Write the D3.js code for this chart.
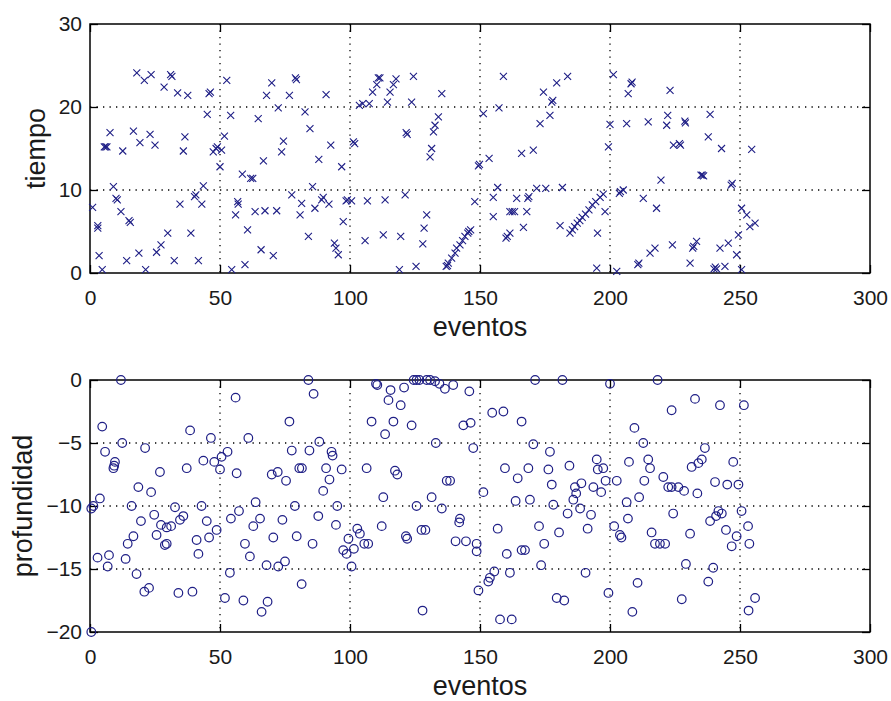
<!DOCTYPE html>
<html>
<head>
<meta charset="utf-8">
<script src="https://cdnjs.cloudflare.com/ajax/libs/d3/7.8.5/d3.min.js"></script>
<style>
body { margin: 0; background: #fff; }
text { font-family: "Liberation Sans", Arial, sans-serif; fill: #1a1a1a; }
</style>
</head>
<body>
<div id="visualization"></div>
<script>
// tick values
var xTicks = [0, 50, 100, 150, 200, 250, 300];
var tiempoTicks = [0, 10, 20, 30];
var profTicks = [-20, -15, -10, -5, 0];

// [evento, tiempo]
var tiempo = [
  [1,7.9],[3,5.7],[3,5.4],[3.5,2.1],[4.7,0.4],[5.5,15.2],[6,15.2],[6.5,15.2],[7.7,16.9],[9,10.4],
  [10,9],[10.5,8.8],[11.9,7.4],[12.6,14.7],[14.1,1.5],[15,6.3],[15.5,6.1],[16.7,17.1],[18,24.1],[18.8,2.4],
  [19.2,15.7],[20.9,23.2],[21.4,0.4],[23.1,16.7],[23.5,23.9],[25,15.4],[25.6,2.5],[27.3,3.4],[28.5,22.4],[29.9,4.8],
  [31,23.9],[31.5,23.7],[32.4,1.5],[33.7,21.7],[34.6,8.3],[35.9,14.7],[36.5,16.4],[37.6,21.4],[38.8,4.8],[40.2,9.2],
  [40.7,9.4],[41.7,1.5],[43,8.3],[43.6,10.5],[45.1,19.1],[45.8,21.6],[46.3,21.8],[47.4,14.6],[48.5,15],[49,15.2],
  [50,12.8],[50.6,14.8],[51.7,16.5],[52.6,23.2],[54.1,19],[54.5,0.4],[56,7],[56.8,8.6],[57,8.3],[58.6,11.9],
  [59.6,1],[60.6,5.2],[61.8,11.4],[62.6,11.4],[63.5,7.4],[64.7,18.6],[65.8,2.8],[66.7,13.5],[67.3,7.5],[67.9,21.4],
  [69.9,22.9],[70.5,2.1],[71.8,7.5],[72.4,19.9],[73.7,14.6],[74.4,15.9],
  [76.7,21.4],[77.6,9.4],[79,23.5],[79.4,23.3],[80.8,7],[81.4,8.4],[82.7,19.4],[84,4.4],[84.6,17.4],[85.6,10.4],
  [86.5,7.8],[88,13.7],[89.1,8.8],[89.7,9.1],[90.8,21.5],[91.9,8.3],[92.6,15.4],[94,3.6],[94.6,3],[95.5,2.2],
  [96.8,12.8],[97.4,6.2],[98.5,8.7],[99,8.8],[100.6,8.7],[101.3,15.8],[101.8,15.6],[103.6,20.2],[104.9,20.4],[105.8,3.9],
  [106.7,8.7],[107.4,20.4],[108.7,21.8],[110.3,22.7],[110.9,23.5],[111.5,23.5],[112.8,4.6],[113.5,8.8],[114.4,20.6],[115.4,21.8],
  [116.7,22.7],[117.7,23.4],[119,0.4],[119.5,4.4],[121.2,9.4],[121.6,16.9],[122,16.7],[123.7,20.6],[124.4,23.7],[125.4,0.8],
  [128,3.5],[128.5,5.4],[129.5,7],[130.8,14],[131.4,15],[132.1,17],[132.7,17.8],[134,18.8],[135.3,21.6],[137,0.8],
  [137.5,0.9],[137.8,1.2],[139.1,1.8],[140.4,2.4],[141,3],[142.3,3.4],[143.3,3.9],[144.2,4.4],[145.3,4.8],[145.7,5],
  [146.4,5.2],[148,8.6],[149.4,12.9],[149.8,13.1],
  [151.3,19.2],[153.5,13.8],[155.1,9.1],[155.1,6.8],[156.8,10.3],[157.3,19.9],[159,23.7],[160,4.2],[160.5,4.4],[161.5,4.8],
  [161.5,7.4],[162.4,7.4],[163.3,7.4],[164.1,9],[166,14.4],[166.7,5.5],[168,7.4],[168.4,9],[168.8,9.2],[170.5,14.8],
  [171.8,10.2],[173.1,18],[174.4,21.8],[175.3,10.2],[176.9,19],[177.6,20.6],[178,20.8],[179.5,22.9],[180.8,5.7],[181.7,10.3],
  [183.7,23.7],[184.6,4.8],[185.5,5.2],[186.4,5.6],[187.4,6],[188.4,6.3],[189.3,6.7],[190.6,7.1],[191.9,7.6],[193.2,8.2],
  [194.5,8.6],[196.2,9.1],[197.4,9.5],[194.9,0.6],[195.2,4.8],[198.1,7.4],[199.4,15.2],[200,17.9],[201.3,23.9],[202.6,0.2],
  [203.6,9.6],[204,9.8],[205.1,10],[206.4,18],[207,21.6],[208.1,22.8],[208.5,23],[210.7,1],[211.1,1.2],[212.8,9],
  [214.7,18.2],[215.4,2.4],[217.3,3],[217.9,7.8],[219.6,11.2],[221.8,17.8],[222.2,19],[223.1,22],[224,3.4],[224.4,15.4],
  [226.7,15.6],[227.1,15.4],[228.8,18.3],[229,18.1],[230.8,1.2],[231.8,3],[232.2,3.2],[233.3,3.8],[235,11.8],[235.5,11.8],
  [236,11.7],[237.8,16.4],[238.5,19.1],[240,0.5],[240.5,0.7],[241,0.5],[242.3,3],[242.9,15],[244.2,0.8],[245.5,3.6],
  [246.6,10.6],[247,10.8],[248.7,2.2],[249.4,4.6],[250.6,7.8],[250.6,0.4],[252.6,7],[253.8,5.6],[254.5,14.9],[255.8,6]
];

// [evento, profundidad]
var profundidad = [
  [0.5,-20],[0.5,-10.2],[11.9,0],[4.7,-3.7],[5.8,-5.7],[12.4,-5],[9.6,-6.5],[9,-7],[9.3,-6.8],[21.2,-5.4],
  [26.9,-7.3],[18.6,-8.5],[23.5,-8.9],[3.8,-9.4],[1.3,-10],[16,-10],[19.6,-11.2],[24.7,-10.7],[27.3,-11.5],[29.5,-11.7],
  [31.2,-11.6],[32.7,-10.1],[34.6,-11.1],[35.9,-10.8],[25.6,-12.3],[28.8,-13.1],[29.5,-13],[16.7,-12.4],[14.5,-13],[2.9,-14.1],
  [7.3,-13.9],[6.8,-14.8],[13.7,-14.2],[17.9,-15.4],[20.9,-16.8],[22.7,-16.5],[34,-16.9],[39.4,-16.8],[38.5,-4],[37.2,-7],
  [43.6,-6.4],[46.5,-4.6],[47.8,-6.5],[50,-7.1],[50.6,-6.1],[52.9,-5.7],[42.9,-10],[44.9,-11.2],[48.7,-11.9],[45.8,-12.5],
  [41,-12.7],[41.7,-13.8],[56.4,-7.4],[56,-1.4],[60.9,-4.6],[54.2,-11],[57.3,-10.4],[63.7,-9.7],[62.8,-11.6],[65.4,-11],
  [59.6,-13],[61.5,-14],[53.8,-15.3],[51.9,-17.3],[59,-17.5],[67.9,-14.7],[68.3,-17.6],[66,-18.4],[70.5,-12.5],[69.9,-7.5],
  [72.2,-7.3],[72.4,-14.8],[74,-11.1],
  [84,0],[86,-1.1],[76.7,-3.3],[77.6,-5.6],[84.4,-5.6],[88.2,-4.9],[92.9,-5.7],[93.3,-6],[80.5,-7],[81.5,-7],
  [75.4,-8],[90.8,-7],[96.8,-7.1],[92.1,-7.9],[89.7,-8.8],[78.8,-10],[95.1,-10],[87.8,-10.8],[94.6,-11.5],[79.5,-12.4],
  [85.6,-13],[75,-14.4],[81.4,-16.2],[99.4,-12.6],[102.8,-11.8],[103.8,-12.2],[97.4,-13.5],[98.7,-13.8],[101.5,-13.4],[105.5,-13],
  [107,-13],[100.6,-14.8],[106.4,-7],[108.3,-3.3],[110,-0.3],[110.5,-0.4],[112.8,-9.3],[112.2,-11.6],[113.5,-4.3],[114.8,-1.6],
  [115.6,-0.8],[116.7,-3.3],[117.3,-7.2],[118.2,-7.5],[119.5,-2],[120.8,-0.6],[123.7,-3.6],[121.5,-12.4],[122,-12.6],[124.5,0],
  [125.6,0],[126.7,0],[129.5,0],[130.8,0],[132.7,-0.1],[134.4,-0.3],[136.5,-0.7],[139.7,-0.4],[145.9,-0.9],[125.6,-10],
  [127.5,-11.9],[129,-11.9],[131.4,-9.3],[133,-5],[135.3,-10.2],[137.2,-8],[138.5,-8],[142.3,-11],[142,-11.3],[140.6,-12.8],
  [143.6,-3.6],[146.4,-3.4],[147.4,-5.4],[144.6,-12.8],[148.7,-13],[148.7,-13.6],[149.4,-16.7],[127.9,-18.3],
  [171.2,0],[181.7,0],[200,-0.3],[218.3,0],[223.7,-2.4],[154.7,-2.6],[159,-2.5],[166,-3.3],[170.5,-5.1],[176.9,-5.7],
  [159.6,-7],[164.5,-7.8],[168.6,-7],[176.3,-7.1],[177.6,-8.3],[184.4,-6.8],[194.9,-6.3],[195.3,-7.1],[197.4,-7],[198.3,-8],
  [202.6,-8],[207.3,-6.5],[209.4,-3.8],[212.8,-5],[214.7,-6.3],[215.4,-7],[213.2,-8],[220.5,-7.7],[222.4,-8.5],[223.7,-8.5],
  [151.3,-8.9],[163.7,-9.6],[169.2,-9.5],[178.2,-9.9],[186.5,-8.5],[189,-8.2],[187,-9],[185.9,-9.5],[193.6,-8.5],[196.6,-8.9],
  [183.7,-10.6],[188.5,-10.2],[192.7,-10.7],[206.4,-9.7],[211.2,-9.3],[206.9,-11],[224.3,-10.6],[156.8,-11.8],[172.7,-11.6],[180.4,-12.1],
  [191.4,-11.8],[201.6,-11.6],[203.8,-12.3],[204.4,-12.5],[216,-12.1],[217.3,-13],[219.2,-13],[221.2,-13],[160.3,-13.8],[166,-13.5],
  [167.3,-13.5],[174.7,-13],[155.5,-15.2],[153.8,-15.7],[153.2,-16],[161.5,-15.3],[173.5,-14.7],[190.6,-15.3],[210.6,-16.1],[199.4,-16.9],
  [179.5,-17.3],[182.4,-17.5],[157.7,-19],[162.2,-19],[208.6,-18.4],
  [232.7,-1.5],[242.3,-2],[251.5,-2],[236.5,-5.4],[235.3,-6.3],[234,-6.6],[231.4,-6.9],[247.4,-6.5],[240.4,-8.1],[245.1,-8.3],
  [249.4,-8.3],[226.3,-8.5],[228.5,-8.8],[233.6,-9],[241.7,-10.4],[243,-10.6],[240.8,-10.8],[238.5,-11.2],[250.6,-10.4],[253.1,-11.6],
  [230.8,-12.2],[244.6,-11.9],[248.7,-12.4],[246.8,-13.2],[253.6,-13],[229.2,-14.6],[239.7,-14.9],[237.8,-16],[227.6,-17.4],[255.8,-17.3],
  [253.3,-18.3]
];

var width = 891, height = 701;
var left = 90, right = 870;
var markColor = "#1f1f86";

var svg = d3.select("#visualization")
    .append("svg")
    .attr("width", width)
    .attr("height", height);

var x = d3.scaleLinear().domain([0, 300]).range([left, right]);

function draw_panel(top, bottom, yDomain, yTicks, data, marker, ylabel, ylabelX) {
    var y = d3.scaleLinear().domain(yDomain).range([bottom, top]);
    var g = svg.append("g");

    // dotted grid
    g.selectAll("line.vgrid")
        .data(xTicks.slice(1, -1))
        .enter().append("line")
        .attr("x1", function(d) { return x(d); })
        .attr("x2", function(d) { return x(d); })
        .attr("y1", top).attr("y2", bottom)
        .attr("stroke", "#000")
        .attr("stroke-width", 1.3)
        .attr("stroke-dasharray", "1.3,5.2");
    g.selectAll("line.hgrid")
        .data(yTicks.slice(1, -1))
        .enter().append("line")
        .attr("y1", function(d) { return y(d); })
        .attr("y2", function(d) { return y(d); })
        .attr("x1", left).attr("x2", right)
        .attr("stroke", "#000")
        .attr("stroke-width", 1.3)
        .attr("stroke-dasharray", "1.3,5.2");

    // axes with inward ticks
    g.append("g")
        .attr("transform", "translate(0," + bottom + ")")
        .call(d3.axisBottom(x).tickValues(xTicks).tickSize(-8).tickSizeOuter(0).tickPadding(17));
    g.append("g")
        .attr("transform", "translate(0," + top + ")")
        .call(d3.axisTop(x).tickValues(xTicks).tickSize(-8).tickSizeOuter(0).tickFormat(""));
    g.append("g")
        .attr("transform", "translate(" + left + ",0)")
        .call(d3.axisLeft(y).tickValues(yTicks).tickSize(-8).tickSizeOuter(0).tickPadding(8));
    g.append("g")
        .attr("transform", "translate(" + right + ",0)")
        .call(d3.axisRight(y).tickValues(yTicks).tickSize(-8).tickSizeOuter(0).tickFormat(""));

    g.selectAll(".tick line").attr("stroke", "#000").attr("stroke-width", 1.3);
    g.selectAll(".domain").remove();
    g.selectAll(".tick text")
        .attr("font-size", "21px")
        .attr("font-family", "Liberation Sans, Arial, sans-serif")
        .attr("fill", "#1a1a1a");

    g.append("rect")
        .attr("x", left).attr("y", top)
        .attr("width", right - left).attr("height", bottom - top)
        .attr("fill", "none")
        .attr("stroke", "#000")
        .attr("stroke-width", 1.5);

    // markers
    if (marker === "x") {
        g.selectAll("path.mark")
            .data(data)
            .enter().append("path")
            .attr("class", "mark")
            .attr("transform", function(d) { return "translate(" + x(d[0]) + "," + y(d[1]) + ")"; })
            .attr("d", "M-3.5,-3.5L3.5,3.5M-3.5,3.5L3.5,-3.5")
            .attr("fill", "none")
            .attr("stroke", markColor)
            .attr("stroke-width", 1.1);
    } else {
        g.selectAll("circle.mark")
            .data(data)
            .enter().append("circle")
            .attr("class", "mark")
            .attr("cx", function(d) { return x(d[0]); })
            .attr("cy", function(d) { return y(d[1]); })
            .attr("r", 4.3)
            .attr("fill", "none")
            .attr("stroke", markColor)
            .attr("stroke-width", 1.2);
    }

    // labels
    g.append("text")
        .attr("x", (left + right) / 2)
        .attr("y", bottom + 63)
        .attr("text-anchor", "middle")
        .attr("font-size", "27px")
        .text("eventos");
    g.append("text")
        .attr("transform", "translate(" + ylabelX + "," + (top + bottom) / 2 + ") rotate(-90)")
        .attr("text-anchor", "middle")
        .attr("font-size", "27px")
        .text(ylabel);
}

draw_panel(24, 273, [0, 30], tiempoTicks, tiempo, "x", "tiempo", 45);
draw_panel(380, 632, [-20, 0], profTicks, profundidad, "o", "profundidad", 32);
</script>
</body>
</html>
